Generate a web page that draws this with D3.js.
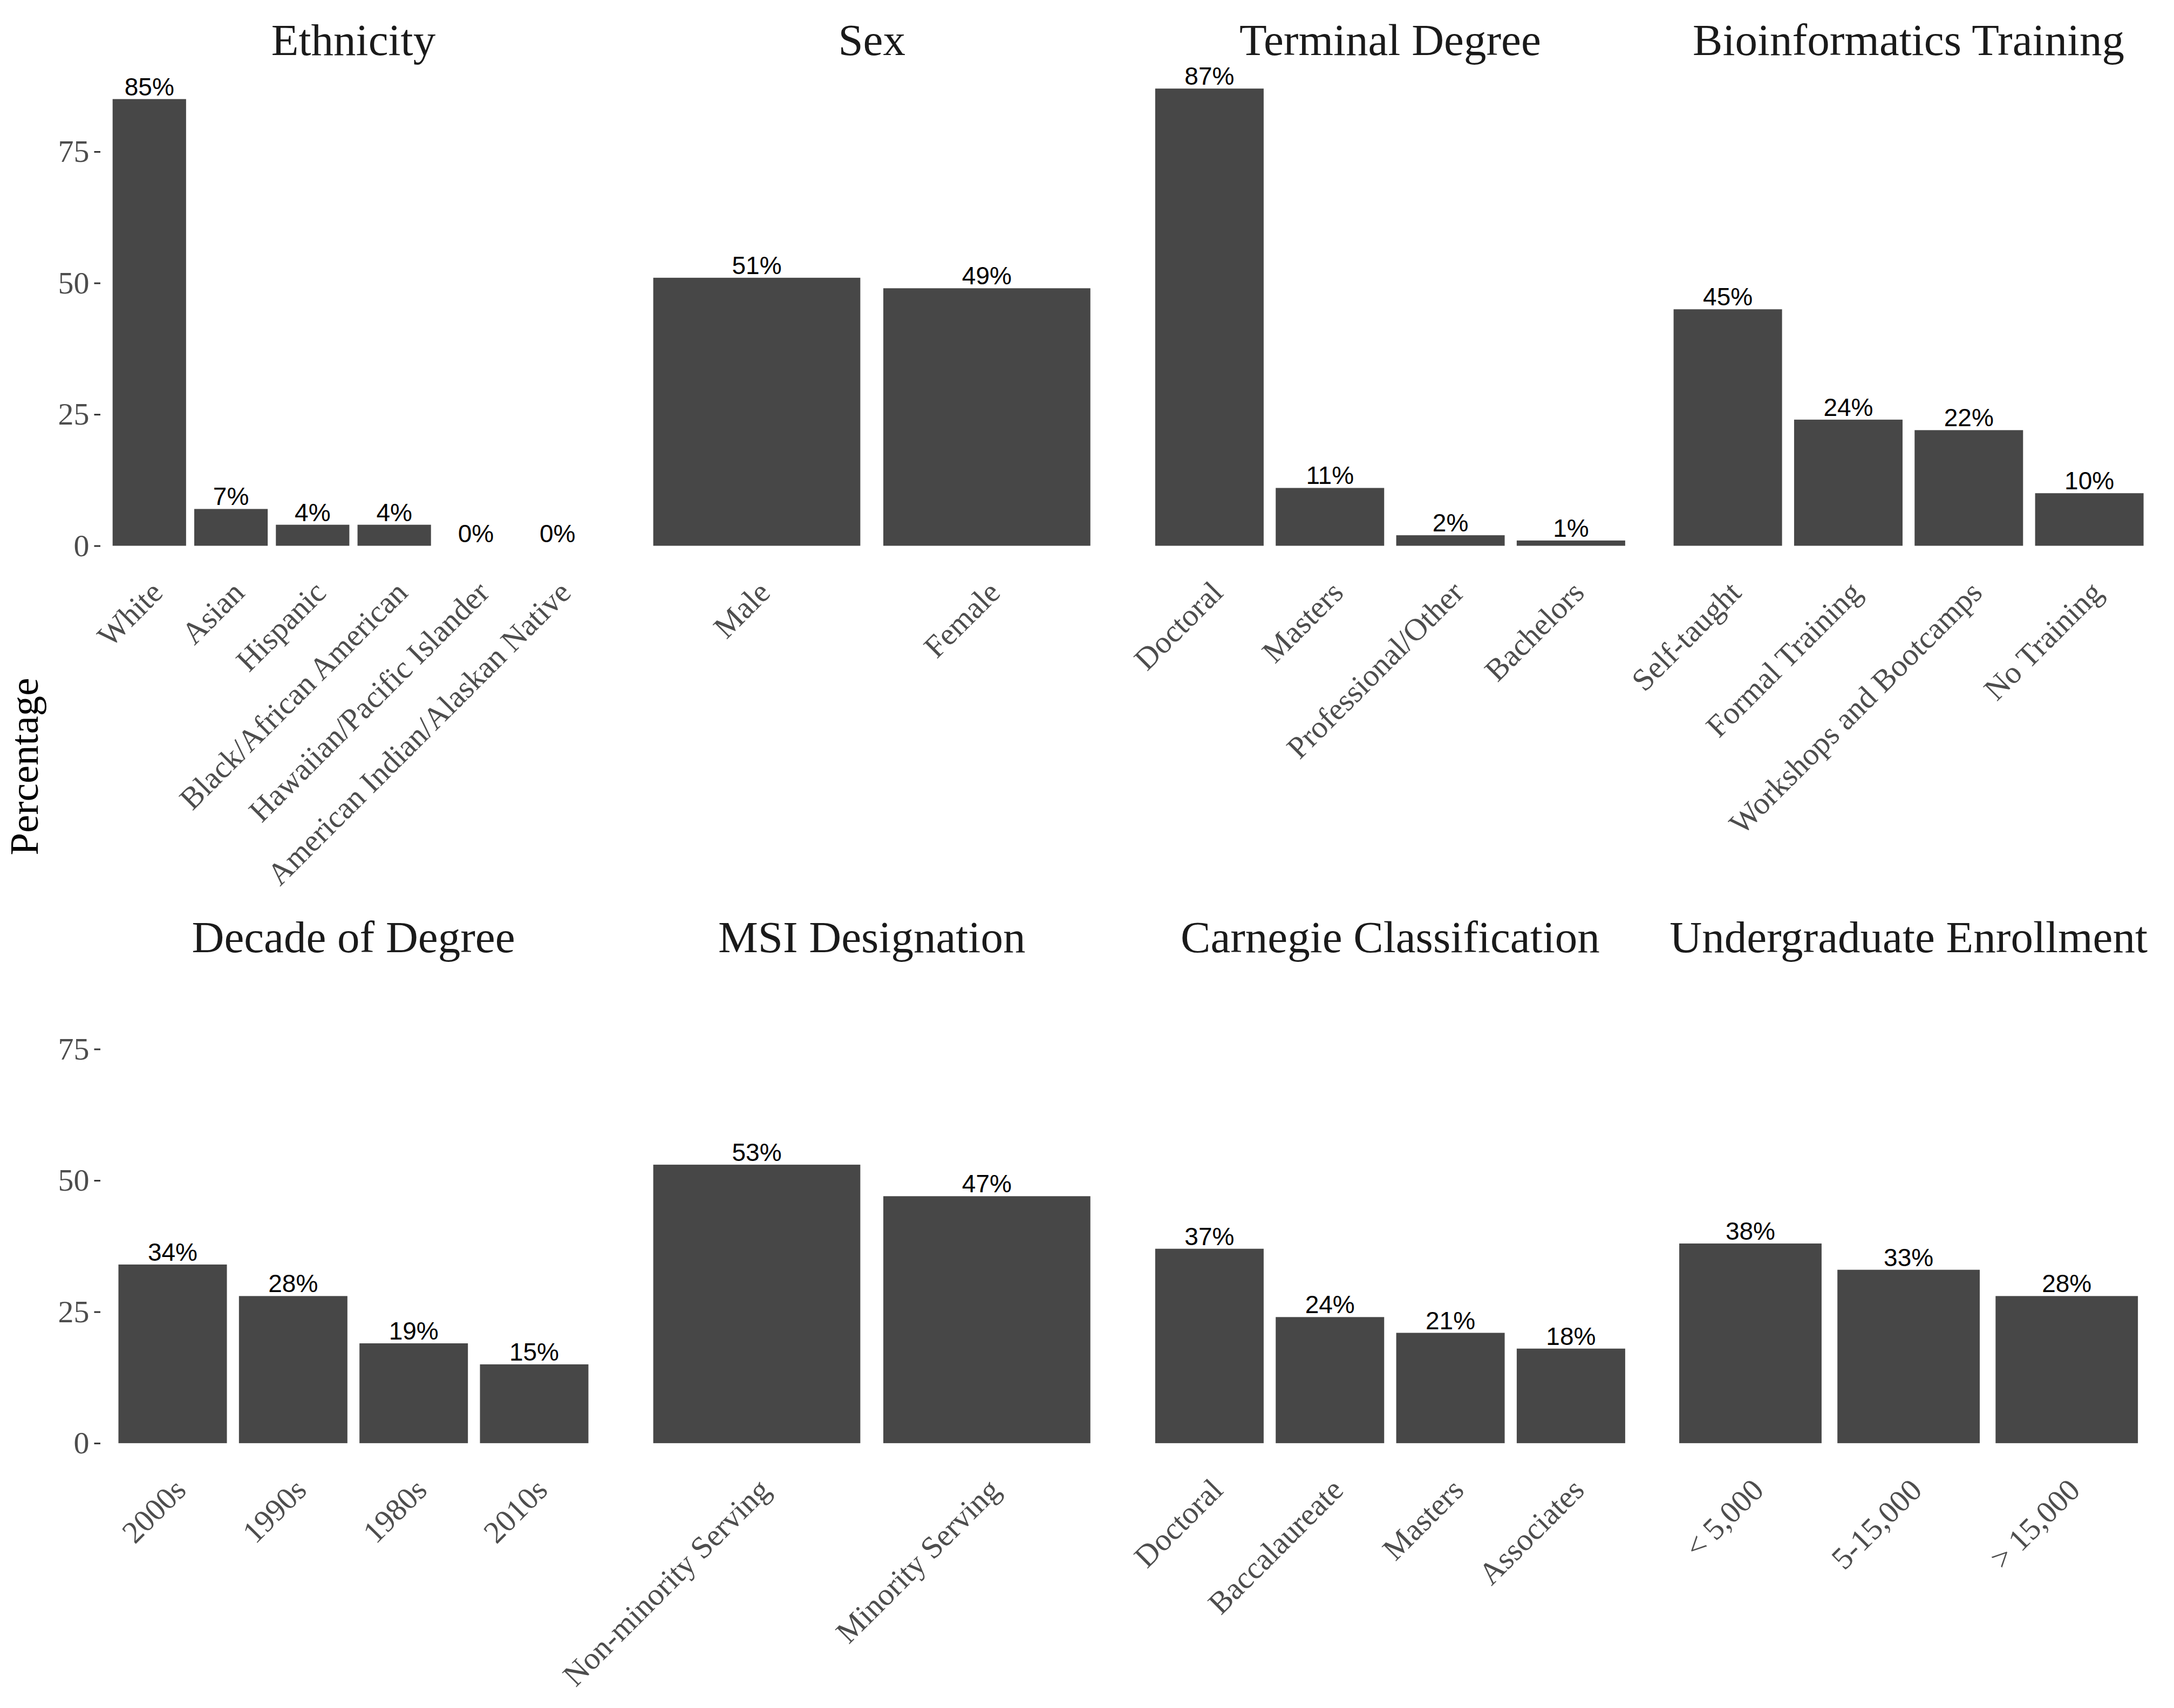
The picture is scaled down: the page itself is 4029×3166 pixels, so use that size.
<!DOCTYPE html>
<html>
<head>
<meta charset="utf-8">
<script src="https://cdn.jsdelivr.net/npm/d3@7"></script>
<style>
  body { margin: 0; background: #fff; }
  text { font-family: "Liberation Serif", "Times New Roman", serif; }
</style>
</head>
<body>
<svg id="chart"></svg>
<script>
// panel titles, in facet order (row by row)
var panelTitles = ["Ethnicity", "Sex", "Terminal Degree", "Bioinformatics Training",
  "Decade of Degree", "MSI Designation", "Carnegie Classification", "Undergraduate Enrollment"];

var ethnicityCats = ["White", "Asian", "Hispanic", "Black/African American", "Hawaiian/Pacific Islander", "American Indian/Alaskan Native"];
var ethnicityVals = [85, 7, 4, 4, 0, 0];

var sexCats = ["Male", "Female"];
var sexVals = [51, 49];

var degreeCats = ["Doctoral", "Masters", "Professional/Other", "Bachelors"];
var degreeVals = [87, 11, 2, 1];

var trainingCats = ["Self-taught", "Formal Training", "Workshops and Bootcamps", "No Training"];
var trainingVals = [45, 24, 22, 10];

var decadeCats = ["2000s", "1990s", "1980s", "2010s"];
var decadeVals = [34, 28, 19, 15];

var msiCats = ["Non-minority Serving", "Minority Serving"];
var msiVals = [53, 47];

var carnegieCats = ["Doctoral", "Baccalaureate", "Masters", "Associates"];
var carnegieVals = [37, 24, 21, 18];

var enrollCats = ["< 5,000", "5-15,000", "> 15,000"];
var enrollVals = [38, 33, 28];

var yTicks = [0, 25, 50, 75];

var panelCats = [ethnicityCats, sexCats, degreeCats, trainingCats, decadeCats, msiCats, carnegieCats, enrollCats];
var panelVals = [ethnicityVals, sexVals, degreeVals, trainingVals, decadeVals, msiVals, carnegieVals, enrollVals];

var W = 4029, H = 3166;
var left0 = 186, panelW = 938, colStep = 960.7;
var top0 = 121.8, panelH = 932.2, rowStep = 1663.5;
var barColor = "#474747";

var svg = d3.select("#chart").attr("width", W).attr("height", H);
svg.append("rect").attr("width", W).attr("height", H).attr("fill", "#fff");

// shared y scale, ggplot-like 5% expansion
var yMax = d3.max(panelVals, function(v) { return d3.max(v); });
var pad = yMax * 0.05;

for (var p = 0; p < panelTitles.length; p++) {
  var col = p % 4, row = Math.floor(p / 4);
  var px = left0 + col * colStep;
  var py = top0 + row * rowStep;

  var x = d3.scaleBand()
    .domain(panelCats[p])
    .range([px, px + panelW])
    .paddingInner(0.1)
    .paddingOuter(0.15);

  var y = d3.scaleLinear()
    .domain([-pad, yMax + pad])
    .range([py + panelH, py]);

  var data = panelCats[p].map(function(c, i) { return { cat: c, val: panelVals[p][i] }; });
  var g = svg.append("g");

  g.selectAll("rect.bar")
    .data(data)
    .enter().append("rect")
    .attr("class", "bar")
    .attr("x", function(d) { return x(d.cat); })
    .attr("width", x.bandwidth())
    .attr("y", function(d) { return y(d.val); })
    .attr("height", function(d) { return y(0) - y(d.val); })
    .attr("fill", barColor);

  // value labels
  g.selectAll("text.val")
    .data(data)
    .enter().append("text")
    .attr("class", "val")
    .attr("x", function(d) { return x(d.cat) + x.bandwidth() / 2; })
    .attr("y", function(d) { return y(d.val) - 7; })
    .attr("text-anchor", "middle")
    .style("font-family", "'Liberation Sans', Arial, sans-serif")
    .style("font-size", "46px")
    .attr("fill", "#000")
    .text(function(d) { return d.val + "%"; });

  // strip title
  g.append("text")
    .attr("x", px + panelW / 2)
    .attr("y", py - 20)
    .attr("text-anchor", "middle")
    .style("font-size", "83px")
    .attr("fill", "#1a1a1a")
    .text(panelTitles[p]);

  // x axis (no tick marks, rotated labels)
  var xAxis = g.append("g")
    .attr("transform", "translate(0," + (py + panelH) + ")")
    .call(d3.axisBottom(x).tickSize(0).tickPadding(0));
  xAxis.select(".domain").remove();
  xAxis.selectAll(".tick text")
    .attr("y", 0).attr("dy", null)
    .attr("transform", "translate(0,20) rotate(-45)")
    .attr("text-anchor", "end")
    .attr("dy", "0.68em")
    .style("font-family", "'Liberation Serif', 'Times New Roman', serif")
    .style("font-size", "58px")
    .attr("fill", "#4d4d4d");

  // y axis on first column only
  if (col === 0) {
    var yAxis = g.append("g")
      .attr("transform", "translate(" + px + ",0)")
      .call(d3.axisLeft(y).tickValues(yTicks).tickSize(11.5).tickPadding(9));
    yAxis.select(".domain").remove();
    yAxis.selectAll(".tick line").attr("stroke", "#333").attr("stroke-width", 3);
    yAxis.selectAll(".tick text")
      .style("font-family", "'Liberation Serif', 'Times New Roman', serif")
      .style("font-size", "58px")
      .attr("fill", "#4d4d4d");
  }
}

// y axis title
svg.append("text")
  .attr("transform", "translate(70,1421) rotate(-90)")
  .attr("text-anchor", "middle")
  .style("font-size", "75px")
  .attr("fill", "#000")
  .text("Percentage");
</script>
</body>
</html>
